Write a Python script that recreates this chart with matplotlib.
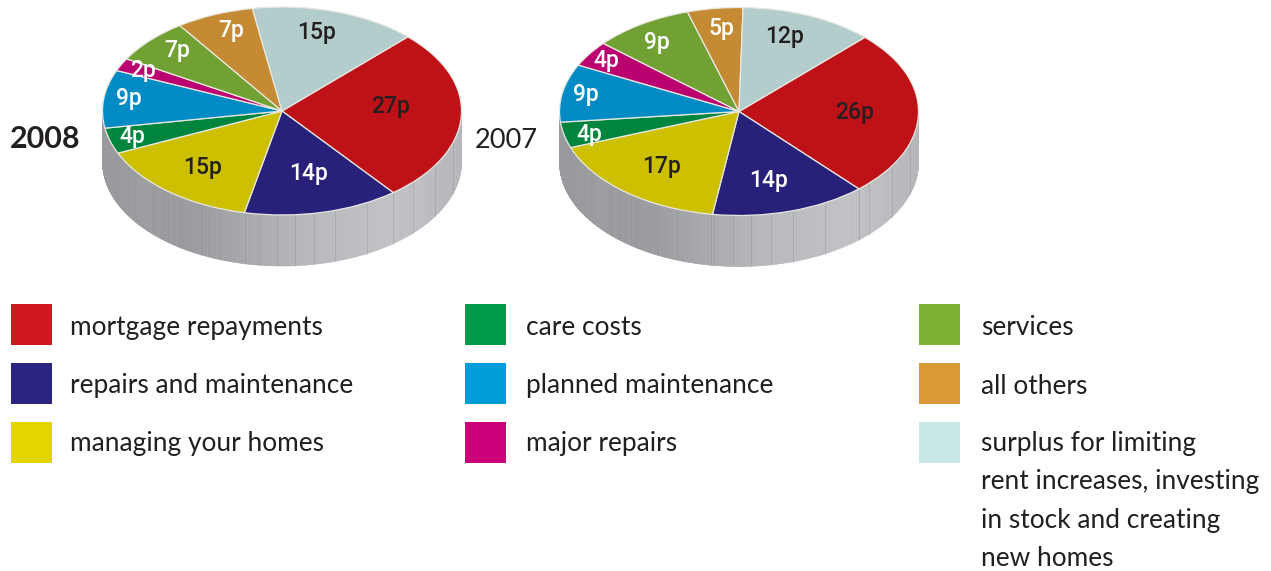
import numpy as np
import matplotlib
matplotlib.use("Agg")
import matplotlib.pyplot as plt
from matplotlib.patches import Rectangle
from matplotlib.collections import PolyCollection

W, H = 1271, 571

categories = ["mortgage repayments", "repairs and maintenance", "managing your homes",
              "care costs", "planned maintenance", "major repairs",
              "services", "all others",
              "surplus for limiting\nrent increases, investing\nin stock and creating\nnew homes"]
values_2008 = [27, 14, 15, 4, 9, 2, 7, 7, 15]
values_2007 = [26, 14, 17, 4, 9, 4, 9, 5, 12]

pie_colors = ["#be1218", "#27217a", "#cdc000", "#00853e", "#008bc4",
              "#bb0070", "#70a132", "#c58b34", "#b3cdcc"]
legend_colors = ["#d2171f", "#2b2480", "#e3d500", "#009a4b", "#009dd8",
                 "#cc0078", "#7eb035", "#db9a37", "#c9e7e5"]
label_colors = ["#231f20", "white", "#231f20", "white", "white",
                "white", "white", "white", "#231f20"]

# where the value labels sit, in picture pixels
label_xy_2008 = [(391, 107), (309, 173.5), (203, 167.5), (132, 136), (129, 98),
                 (143, 71), (177, 51), (231, 30), (317, 33)]
label_xy_2007 = [(855, 112), (769, 181), (662, 167), (589, 135), (586, 94),
                 (606, 61), (657, 42), (721, 28), (785, 37)]

# x positions of the facet lines on the rim
facets_2008 = [117, 180, 201, 220, 245, 259, 277, 295, 314, 335, 367, 393, 413, 435, 453]
facets_2007 = [570, 637, 657, 677, 711, 714, 733, 751, 771, 793, 825, 859, 869, 892, 910]

fig = plt.figure(figsize=(W / 100, H / 100), dpi=100, facecolor="white")
bg = fig.add_axes([0, 0, 1, 1], zorder=0)
bg.set_xlim(0, W)
bg.set_ylim(H, 0)
bg.axis("off")

LABEL_FONT = "Roboto"
TEXT_FONT = "Lato"
TEXT = "#231f20"


def wall_color(t):
    stops_t = [0.0, 0.25, 0.4, 0.55, 0.8, 1.0]
    stops_c = [0x99, 0x99, 0xa6, 0xb6, 0xc0, 0xb6]
    v = np.interp(t, stops_t, stops_c) / 255
    return (v, v + 0.004, v + 0.018)


def draw_pie(values, label_xy, cx, cy, rx, ry, depth, start, facets):
    # rim
    ang = np.radians(np.arange(180, 360.01, 0.5))
    polys, cols = [], []
    for a, b in zip(ang[:-1], ang[1:]):
        xa, xb = cx + rx * np.cos(a), cx + rx * np.cos(b)
        ya, yb = cy - ry * np.sin(a), cy - ry * np.sin(b)
        polys.append([(xa, ya - 1), (xb, yb - 1), (xb, yb + depth), (xa, ya + depth)])
        cols.append(wall_color((xa - cx + rx) / (2 * rx)))
    bg.add_collection(PolyCollection(polys, facecolors=cols, edgecolors=cols, linewidths=0.4))
    for fx in facets:
        dy = ry * np.sqrt(max(0, 1 - ((fx - cx) / rx) ** 2))
        bg.plot([fx, fx], [cy + dy, cy + dy + depth], color="#8f9097", lw=0.5, alpha=0.55)

    # top
    ax = fig.add_axes([(cx - rx) / W, 1 - (cy + ry) / H, 2 * rx / W, 2 * ry / H], zorder=1)
    wedges, _ = ax.pie(values, colors=pie_colors, startangle=start, counterclock=False,
                       radius=1.0, wedgeprops=dict(edgecolor="#e8e8e0", linewidth=0.9))
    ax.set_aspect("auto")
    ax.set_xlim(-1, 1)
    ax.set_ylim(-1, 1)
    ax.patch.set_alpha(0)
    for v, (px, py), c in zip(values, label_xy, label_colors):
        ax.text((px - cx) / rx, (cy - py) / ry, f"{v}p", color=c, ha="center", va="center",
                fontsize=16.5, fontweight="medium", family=LABEL_FONT)


draw_pie(values_2008, label_xy_2008, 282, 111, 179.5, 104, 51, 45.5, facets_2008)
draw_pie(values_2007, label_xy_2007, 739, 111.5, 179.5, 104, 51, 45.5, facets_2007)

bg.text(10, 148, "2008", fontsize=22, fontweight="bold", family=TEXT_FONT, color=TEXT, va="baseline")
bg.text(475, 148, "2007", fontsize=19.5, family=TEXT_FONT, color=TEXT, va="baseline")

# legend
col_x = [11, 465, 919]
text_x = [70.5, 525.5, 981]
row_y = [304, 363, 422]
baseline_y = [335, 393.5, 451]
for i, (name, col) in enumerate(zip(categories, legend_colors)):
    c, r = i // 3, i % 3
    bg.add_patch(Rectangle((col_x[c], row_y[r]), 41, 41, facecolor=col, edgecolor="none"))
    for j, line in enumerate(name.split("\n")):
        bg.text(text_x[c], baseline_y[r] + j * 38.5, line, fontsize=18.9, family=TEXT_FONT,
                color=TEXT, va="baseline")

fig.savefig("out.png", dpi=100, facecolor="white")
